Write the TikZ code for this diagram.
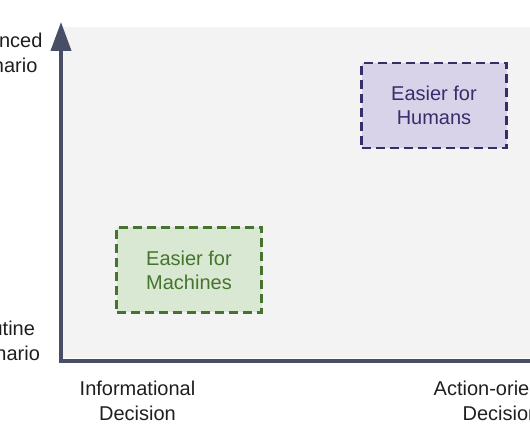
\documentclass[tikz,border=0pt]{standalone}
\usepackage{fontspec}
\setmainfont{Liberation Sans}
\usetikzlibrary{arrows.meta}
\definecolor{plotbg}{HTML}{F3F3F3}
\definecolor{axisslate}{HTML}{474E66}
\definecolor{humanfill}{HTML}{D9D3E9}
\definecolor{humanink}{HTML}{372D6B}
\definecolor{machinefill}{HTML}{D9E8D2}
\definecolor{machineink}{HTML}{46742E}
\begin{document}
\begin{tikzpicture}[x=1pt,y=-1pt,
 axis/.style={draw=axisslate,line width=4pt,-{Triangle[width=20pt,length=29pt]}},
 lbl/.style={align=center,inner sep=0pt,text=black!88,font=\fontsize{20}{25}\selectfont},
 zone/.style={draw,line width=2.4pt,dash pattern=on 9pt off 5pt,
  minimum width=145pt,minimum height=85pt,inner sep=0pt,align=center,
  font=\fontsize{20}{24}\selectfont}]
\useasboundingbox (0,0) rectangle (530,443);
\clip (0,0) rectangle (530,443);
\fill[plotbg] (62,27) rectangle (530,358);
\coordinate (origin) at (61,361);
\coordinate (ytip) at (61,22);
\coordinate (xtip) at (575,361);
\draw[axis] (origin) -- (ytip);
\draw[axis] (59,361) -- (xtip);
\node[lbl] (advanced) at (-2,53) {Advanced\\Scenario};
\node[lbl] (routine) at (0.5,341) {Routine\\Scenario};
\node[lbl] (informational) at (137.5,401) {Informational\\Decision};
\node[lbl] (action) at (501,401) {Action-oriented\\Decision};
\node[zone,draw=humanink,fill=humanfill,text=humanink] (humans) at (434,105.5) {Easier for\\Humans};
\node[zone,draw=machineink,fill=machinefill,text=machineink] (machines) at (189,270) {Easier for\\Machines};
\end{tikzpicture}
\end{document}
